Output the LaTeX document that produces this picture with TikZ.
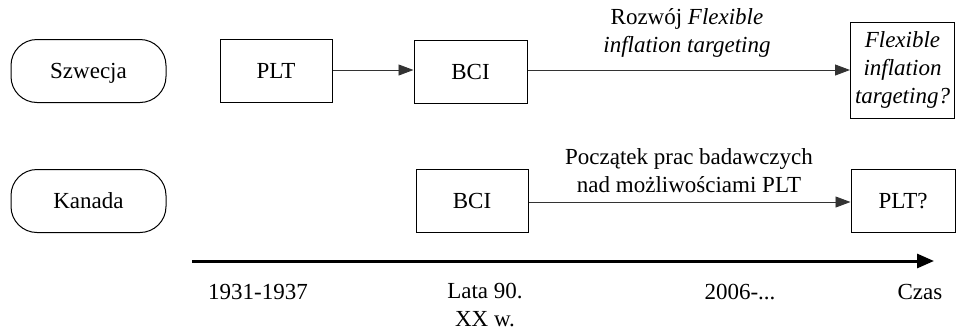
\documentclass[tikz,border=0pt]{standalone}
\usepackage{fontspec}
\setmainfont{Liberation Serif}
\usetikzlibrary{arrows.meta}
\begin{document}
\begin{tikzpicture}[x=1pt,y=-1pt,
  every node/.style={font=\fontsize{23}{28}\selectfont},
  country/.style={draw, line width=1pt, rounded corners=26pt,
    minimum width=155pt, minimum height=63pt, inner sep=0pt,
    text height=15pt, text depth=0pt},
  stagebox/.style={draw, line width=1pt, minimum width=112pt,
    minimum height=63pt, inner sep=0pt, text height=15pt, text depth=0pt},
  note/.style={align=center, inner sep=0pt},
  flow/.style={draw=black!80, line width=0.9pt,
    -{Triangle[length=15pt,width=11pt]}},
  timeaxis/.style={line width=3pt, -{Triangle[length=17pt,width=14pt]}}
]
\useasboundingbox (0,0) rectangle (956,330);

% countries
\node[country] (szw) at (88.5,71) {Szwecja};
\node[country] (kan) at (88.5,201) {Kanada};

% Sweden
\node[stagebox] (plt1) at (276,70.5) {PLT};
\node[stagebox, minimum width=113pt] (bci1) at (470.5,72) {BCI};
\node[draw, line width=1pt, minimum width=104pt, minimum height=96pt,
      inner sep=0pt, align=center, font=\fontsize{23}{28}\selectfont\itshape]
      (flex) at (902.5,70) {Flexible\\inflation\\targeting?};

\draw[flow] (plt1.east) ++(0,-0.5) coordinate (a1) -- (a1 -| bci1.west);
\draw[flow] (bci1.east) ++(0,-2) coordinate (a2) -- (a2 -| flex.west);
\node[note] (lab1) at (687,33) {Rozwój \textit{Flexible}\\\textit{inflation targeting}};

% Canada
\node[stagebox] (bci2) at (472,201) {BCI};
\node[stagebox, minimum width=104pt] (plt2) at (903,201) {PLT?};
\draw[flow] (bci2.east) ++(0,1) coordinate (b1) -- (b1 -| plt2.west);
\node[note] (lab2) at (689,171) {Początek prac badawczych\\nad możliwościami PLT};

% time axis
\coordinate (t0) at (192,261);
\coordinate (t1) at (934,261);
\draw[timeaxis] (t0) -- (t1);

\node[anchor=base] (d1) at (258,299) {1931-1937};
\node[anchor=base, align=center] (d2) at (485,326) {Lata 90.\\XX w.};
\node[anchor=base] (d3) at (740,299) {2006-...};
\node[anchor=base] (d4) at (920,299) {Czas};
\end{tikzpicture}
\end{document}
